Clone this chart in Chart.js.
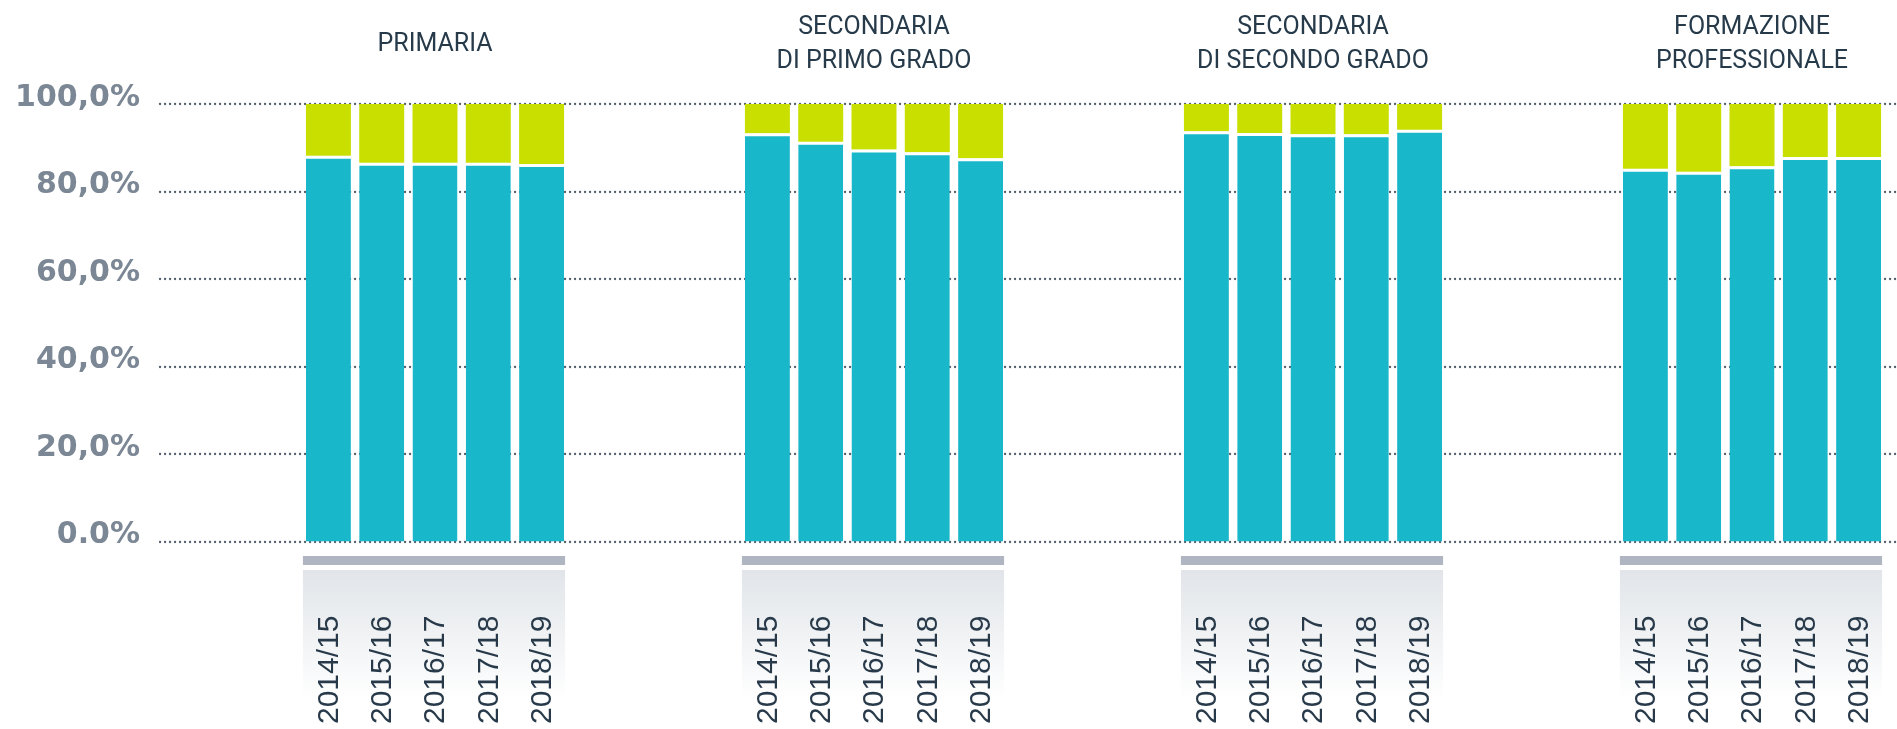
<!DOCTYPE html>
<html>
<head>
<meta charset="utf-8">
<script src="https://cdn.jsdelivr.net/npm/chart.js@4.4.1/dist/chart.umd.min.js"></script>
<style>
    html, body { margin: 0; padding: 0; background: #fff; }
    #wrap { width: 1897px; height: 729px; }
</style>
</head>
<body>
<div id="wrap"><canvas id="chart" width="1897" height="729"></canvas></div>
<script>
// Group titles (school levels)
const levels = [
    ['PRIMARIA'],
    ['SECONDARIA', 'DI PRIMO GRADO'],
    ['SECONDARIA', 'DI SECONDO GRADO'],
    ['FORMAZIONE', 'PROFESSIONALE']
];
const years = ['2014/15', '2015/16', '2016/17', '2017/18', '2018/19'];

// Teal share (%) per level, one value per year
const primaria = [88.2, 86.6, 86.6, 86.6, 86.3];
const primoGrado = [93.3, 91.4, 89.6, 89.0, 87.6];
const secondoGrado = [93.8, 93.4, 93.1, 93.1, 94.1];
const formazione = [85.2, 84.5, 85.8, 87.9, 87.9];

// Lime share (%) per level, one value per year
const primariaRest = [11.8, 13.4, 13.4, 13.4, 13.7];
const primoGradoRest = [6.7, 8.6, 10.4, 11.0, 12.4];
const secondoGradoRest = [6.2, 6.6, 6.9, 6.9, 5.9];
const formazioneRest = [14.8, 15.5, 14.2, 12.1, 12.1];

const yTicks = [0, 20, 40, 60, 80, 100];
const yTickLabels = ['0.0%', '20,0%', '40,0%', '60,0%', '80,0%', '100,0%'];

const TEAL = '#18b7c9';
const LIME = '#c8df00';

// Build one stack per year: teal at the bottom, lime on top
const datasets = [];
years.forEach((year, j) => {
    datasets.push({
        label: year,
        stack: 'y' + j,
        data: [primaria[j], primoGrado[j], secondoGrado[j], formazione[j]],
        backgroundColor: TEAL,
        borderColor: '#ffffff',
        borderWidth: { top: 3, bottom: 0, left: 0, right: 0 },
        borderSkipped: false
    });
    datasets.push({
        label: year,
        stack: 'y' + j,
        data: [primariaRest[j], primoGradoRest[j], secondoGradoRest[j], formazioneRest[j]],
        backgroundColor: LIME,
        borderWidth: 0
    });
});

// Dotted horizontal gridlines running to the right edge
const dottedGrid = {
    id: 'dottedGrid',
    beforeDatasetsDraw(chart) {
        const ctx = chart.ctx;
        const yScale = chart.scales.y;
        ctx.save();
        ctx.strokeStyle = '#525e6c';
        ctx.lineWidth = 2.3;
        ctx.lineCap = 'round';
        ctx.setLineDash([0.1, 4.9]);
        yTicks.forEach(v => {
            const py = Math.round(yScale.getPixelForValue(v));
            ctx.beginPath();
            ctx.moveTo(160, py);
            ctx.lineTo(chart.width, py);
            ctx.stroke();
        });
        ctx.restore();
    }
};

// Grey rule, fading panel and rotated year labels under each group
const yearLabels = {
    id: 'yearLabels',
    afterDraw(chart) {
        const ctx = chart.ctx;
        const first = chart.getDatasetMeta(0);
        const last = chart.getDatasetMeta((years.length - 1) * 2);
        ctx.save();
        levels.forEach((lv, i) => {
            const a = first.data[i];
            const b = last.data[i];
            const left = a.x - a.width / 2 - 3;
            const right = b.x + b.width / 2 + 1;

            ctx.fillStyle = '#afb6c1';
            ctx.fillRect(left, 556, right - left, 9);

            const grad = ctx.createLinearGradient(0, 570, 0, 700);
            grad.addColorStop(0, '#e1e5e9');
            grad.addColorStop(1, '#ffffff');
            ctx.fillStyle = grad;
            ctx.fillRect(left, 570, right - left, chart.height - 570);
        });

        ctx.fillStyle = '#283a4a';
        ctx.font = '30px "Liberation Sans", Arial, sans-serif';
        ctx.textAlign = 'left';
        ctx.textBaseline = 'middle';
        years.forEach((year, j) => {
            const meta = chart.getDatasetMeta(j * 2);
            meta.data.forEach(bar => {
                ctx.save();
                ctx.translate(bar.x + 1, 724);
                ctx.rotate(-Math.PI / 2);
                ctx.fillText(year, 0, 0);
                ctx.restore();
            });
        });
        ctx.restore();
    }
};

const ctx = document.getElementById('chart').getContext('2d');
new Chart(ctx, {
    type: 'bar',
    data: {
        labels: levels,
        datasets: datasets
    },
    options: {
        responsive: false,
        animation: false,
        layout: {
            padding: { left: 0, right: 145, top: 0, bottom: 187.5 }
        },
        datasets: {
            bar: {
                categoryPercentage: 0.607,
                barPercentage: 0.844,
                clip: false
            }
        },
        plugins: {
            legend: { display: false },
            tooltip: { enabled: false }
        },
        scales: {
            x: {
                position: 'top',
                offset: false,
                stacked: true,
                grid: { display: false, drawTicks: false },
                border: { display: false },
                ticks: {
                    autoSkip: false,
                    maxRotation: 0,
                    minRotation: 0,
                    crossAlign: 'center',
                    padding: 42,
                    color: '#263a4a',
                    font: { family: 'Roboto', size: 25, lineHeight: 1.39 }
                },
                afterFit(scale) {
                    scale.height = 104;
                }
            },
            y: {
                stacked: true,
                min: 0,
                max: 100,
                grid: { display: false, drawTicks: false },
                border: { display: false },
                ticks: {
                    stepSize: 20,
                    padding: 295,
                    labelOffset: -6,
                    color: '#7b8794',
                    font: { family: '"DejaVu Sans"', size: 30, weight: 'bold' },
                    callback: v => yTickLabels[yTicks.indexOf(v)]
                },
                afterFit(scale) {
                    // keep the wide label gutter without pushing the plot area down
                    scale.width = 435;
                    scale.paddingTop = 0;
                    scale.paddingBottom = 0;
                }
            }
        }
    },
    plugins: [dottedGrid, yearLabels]
});
</script>
</body>
</html>
